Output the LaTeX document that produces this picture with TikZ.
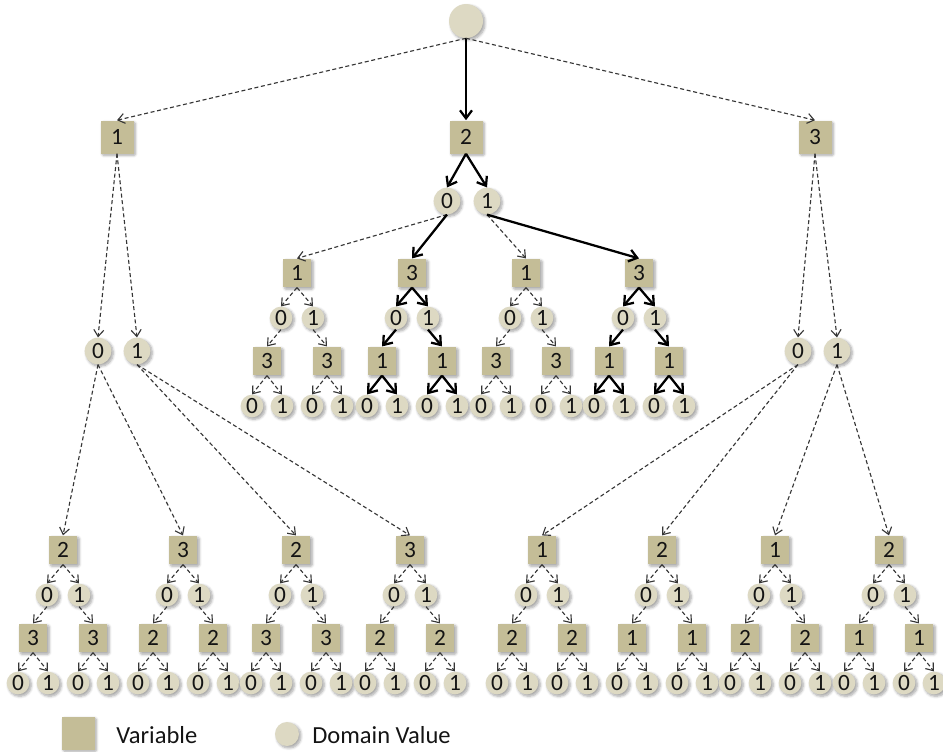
\documentclass[tikz,border=0pt]{standalone}
\usepackage{fontspec}
\setmainfont{Carlito}
\usetikzlibrary{arrows.meta,shadows.blur}

\definecolor{varfill}{HTML}{C4BD97}
\definecolor{valfill}{HTML}{DDD9C3}
\definecolor{edgegray}{HTML}{363636}
\definecolor{labeltext}{HTML}{141414}

\tikzset{
  every node/.style={inner sep=0pt, text=labeltext, font=\fontsize{17.5}{18}\selectfont},
  soft shadow/.style={blur shadow={shadow xshift=1.4pt, shadow yshift=-1.4pt,
      shadow blur steps=6, shadow blur extra rounding=1pt, shadow opacity=35}},
  var/.style={rectangle, fill=varfill, minimum size=21.5pt, soft shadow},
  bigvar/.style={var, minimum size=24.75pt},
  val/.style={circle, fill=valfill, minimum size=17pt, soft shadow},
  midval/.style={val, minimum size=20pt},
  rootval/.style={val, minimum size=25.5pt},
  pathedge/.style={draw=edgegray, line width=0.85pt, dash pattern=on 3pt off 2pt,
      -{Straight Barb[length=5pt,width=7.5pt]}},
  chosen/.style={draw=black, line width=1.7pt,
      -{Straight Barb[length=6pt,width=9pt]}},
  legendtext/.style={anchor=west, font=\fontsize{18.4}{20}\selectfont},
}

% one variable with both values, the next variable under each value,
% and the two values of that variable
% #1 name, #2 x, #3 y, #4 top variable, #5 lower variable, #6 edge style
\newcommand\vartree[6]{%
  \node[var] (#1) at (#2,#3) {#4};
  \node[val] (#1-0) at ({#2-16},{#3+45}) {0};
  \node[val] (#1-1) at ({#2+16},{#3+45}) {1};
  \node[var] (#1-0s) at ({#2-30},{#3+88}) {#5};
  \node[var] (#1-1s) at ({#2+30},{#3+88}) {#5};
  \node[val] (#1-00) at ({#2-45},{#3+133}) {0};
  \node[val] (#1-01) at ({#2-15},{#3+133}) {1};
  \node[val] (#1-10) at ({#2+15},{#3+133}) {0};
  \node[val] (#1-11) at ({#2+45},{#3+133}) {1};
  \draw[#6] (#1.south) -- (#1-0.north);
  \draw[#6] (#1.south) -- (#1-1.north);
  \draw[#6] (#1-0.south) -- (#1-0s.north);
  \draw[#6] (#1-1.south) -- (#1-1s.north);
  \draw[#6] (#1-0s.south) -- (#1-00.north);
  \draw[#6] (#1-0s.south) -- (#1-01.north);
  \draw[#6] (#1-1s.south) -- (#1-10.north);
  \draw[#6] (#1-1s.south) -- (#1-11.north);
}

\begin{document}
\begin{tikzpicture}[x=0.75pt, y=-0.75pt]
  \useasboundingbox (0,0) rectangle (943,751);

  % root
  \node[rootval] (root) at (466,21) {};

  % first variable choice
  \node[bigvar] (v1) at (117,137) {1};
  \node[bigvar] (v2) at (466,137) {2};
  \node[bigvar] (v3) at (815,137) {3};

  \node[midval] (v1-0) at (98,351) {0};
  \node[midval] (v1-1) at (137,351) {1};
  \node[midval] (v2-0) at (447,201) {0};
  \node[midval] (v2-1) at (487,201) {1};
  \node[midval] (v3-0) at (798,351) {0};
  \node[midval] (v3-1) at (837,351) {1};

  \draw[pathedge] (root.south) -- (v1.north);
  \draw[chosen]   (root.south) -- (v2.north);
  \draw[pathedge] (root.south) -- (v3.north);

  \draw[pathedge] (v1.south) -- (v1-0.north);
  \draw[pathedge] (v1.south) -- (v1-1.north);
  \draw[chosen]   (v2.south) -- (v2-0.north);
  \draw[chosen]   (v2.south) -- (v2-1.north);
  \draw[pathedge] (v3.south) -- (v3-0.north);
  \draw[pathedge] (v3.south) -- (v3-1.north);

  % subtrees below variable 2
  \vartree{m1}{297}{273}{1}{3}{pathedge}
  \vartree{m2}{412}{273}{3}{1}{chosen}
  \vartree{m3}{526}{273}{1}{3}{pathedge}
  \vartree{m4}{639}{273}{3}{1}{chosen}

  \draw[pathedge] (v2-0.south) -- (m1.north);
  \draw[chosen]   (v2-0.south) -- (m2.north);
  \draw[pathedge] (v2-1.south) -- (m3.north);
  \draw[chosen]   (v2-1.south) -- (m4.north);

  % subtrees below variables 1 and 3
  \vartree{b1}{63}{550}{2}{3}{pathedge}
  \vartree{b2}{183}{550}{3}{2}{pathedge}
  \vartree{b3}{296}{550}{2}{3}{pathedge}
  \vartree{b4}{410}{550}{3}{2}{pathedge}
  \vartree{b5}{542}{550}{1}{2}{pathedge}
  \vartree{b6}{662}{550}{2}{1}{pathedge}
  \vartree{b7}{775}{550}{1}{2}{pathedge}
  \vartree{b8}{889}{550}{2}{1}{pathedge}

  \draw[pathedge] (v1-0.south) -- (b1.north);
  \draw[pathedge] (v1-0.south) -- (b2.north);
  \draw[pathedge] (v1-1.south) -- (b3.north);
  \draw[pathedge] (v1-1.south) -- (b4.north);
  \draw[pathedge] (v3-0.south) -- (b5.north);
  \draw[pathedge] (v3-0.south) -- (b6.north);
  \draw[pathedge] (v3-1.south) -- (b7.north);
  \draw[pathedge] (v3-1.south) -- (b8.north);

  % legend
  \node[bigvar] (keyvar) at (78,733) {};
  \node[legendtext] (keyvartext) at (116,735) {Variable};
  \node[val, minimum size=18pt] (keyval) at (287,734) {};
  \node[legendtext] (keyvaltext) at (312,735) {Domain Value};
\end{tikzpicture}
\end{document}
